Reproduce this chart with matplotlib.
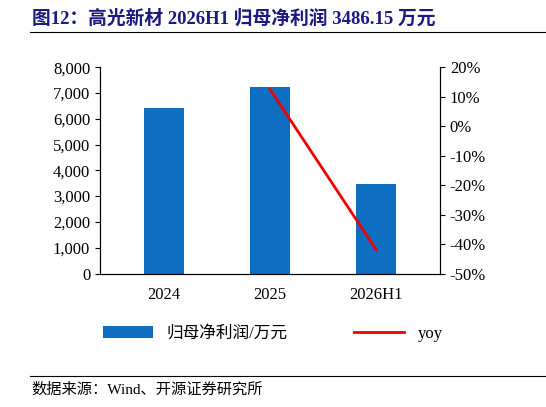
import matplotlib
matplotlib.use("Agg")
import matplotlib.pyplot as plt
from matplotlib.ticker import FuncFormatter

plt.rcParams["font.family"] = ["Liberation Serif", "Noto Sans CJK SC"]

years = ["2024", "2025", "2026H1"]
profit = [6420, 7220, 3486.15]
yoy = [None, 12.5, -42.0]

fig = plt.figure(figsize=(5.46, 4.07), dpi=100)
ax = fig.add_axes([0.183, 0.328, 0.623, 0.507])
bars = ax.bar(years, profit, width=0.38, color="#0E6EC1", label="归母净利润/万元")
ax.set_ylim(0, 8000)
ax.set_yticks(range(0, 8001, 1000))
ax.yaxis.set_major_formatter(FuncFormatter(lambda v, p: f"{v:,.0f}"))
ax.set_xlim(-0.6, 2.6)
ax2 = ax.twinx()
xs = [i for i, v in enumerate(yoy) if v is not None]
ys = [v for v in yoy if v is not None]
line, = ax2.plot(xs, ys, color="#F00000", lw=2, label="yoy")
ax2.set_ylim(-50, 20)
ax2.set_yticks(range(-50, 21, 10))
ax2.yaxis.set_major_formatter(FuncFormatter(lambda v, p: f"{v:.0f}%"))
for a in (ax, ax2):
    a.spines["top"].set_visible(False)
    a.tick_params(labelsize=12, direction="out")
ax.tick_params(axis="x", length=0, pad=10)

fig.legend(handles=[bars, line], loc="center", bbox_to_anchor=(0.5, 0.18), ncol=2,
           frameon=False, handlelength=3, columnspacing=4,
           prop={"family": ["Liberation Serif", "Noto Sans CJK SC"], "size": 12})

fig.text(0.058, 0.955, "图12：高光新材 2026H1 归母净利润 3486.15 万元", fontsize=13.5,
         fontweight="bold", color="#1A1A80", va="center")
fig.add_artist(plt.Line2D([0.055, 1.0], [0.921, 0.921], color="black", lw=0.8))
fig.add_artist(plt.Line2D([0.055, 1.0], [0.076, 0.076], color="black", lw=0.8))
fig.text(0.058, 0.043, "数据来源：Wind、开源证券研究所", fontsize=11, va="center")
fig.savefig("out.png")
